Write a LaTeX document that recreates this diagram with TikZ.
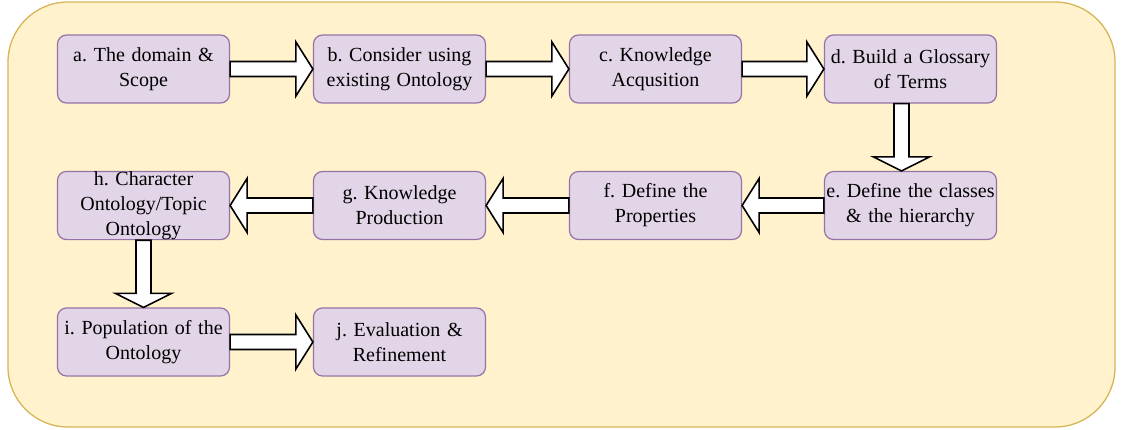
\documentclass[tikz,border=0pt]{standalone}
\usepackage{fontspec}
\setmainfont{Liberation Serif}
\newfontfamily\stepfont{Liberation Serif}
\usetikzlibrary{calc}

\definecolor{panelfill}{HTML}{FFF2CC}
\definecolor{panelline}{HTML}{D6B656}
\definecolor{stepfill}{HTML}{E1D5E7}
\definecolor{stepline}{HTML}{9673A6}

\tikzset{
  panel/.style={draw=panelline, fill=panelfill, line width=1.3pt, rounded corners=60pt},
  stepbox/.style={draw=stepline, fill=stepfill, line width=1.2pt, rounded corners=9pt,
    minimum width=171pt, minimum height=68pt, text width=172pt, inner sep=0pt,
    align=center, font=\stepfont\frenchspacing\fontsize{20}{25}\selectfont},
  blockarrow/.style={draw=black, fill=white, line width=1.6pt, line join=miter},
}

% horizontal block arrow: #1 start, #2 tip, #3 signed head length
\newcommand\hflow[3]{%
  \draw[blockarrow] let \p1=(#1), \p2=(#2) in
    (\x1,{\y1+7.5pt}) -- ({\x2-(#3)},{\y1+7.5pt}) -- ({\x2-(#3)},{\y1+27pt}) -- (\x2,\y1)
    -- ({\x2-(#3)},{\y1-27pt}) -- ({\x2-(#3)},{\y1-7.5pt}) -- (\x1,{\y1-7.5pt}) -- cycle;}

% downward block arrow: #1 start, #2 tip
\newcommand\vflow[2]{%
  \draw[blockarrow] let \p1=(#1), \p2=(#2) in
    ({\x1-7.5pt},\y1) -- ({\x1-7.5pt},{\y2+14pt}) -- ({\x1-28pt},{\y2+14pt}) -- (\x1,\y2)
    -- ({\x1+28pt},{\y2+14pt}) -- ({\x1+7.5pt},{\y2+14pt}) -- ({\x1+7.5pt},\y1) -- cycle;}

\begin{document}
\begin{tikzpicture}[x=1pt,y=-1pt]
  \useasboundingbox (0,0) rectangle (1124,429);
  \draw[panel] (8,2) rectangle (1115,427);

  % first row
  \node[stepbox] (a) at (143.5,69) {a. The domain \&\\Scope};
  \node[stepbox] (b) at (399.5,69) {b. Consider using\\existing Ontology};
  \node[stepbox] (c) at (655.5,69) {c. Knowledge\\Acqusition};
  \node[stepbox] (d) at (910.5,69) {d. Build a Glossary\\of Terms};

  % second row
  \node[stepbox] (e) at (910.5,205.5) {e. Define the classes\\\& the hierarchy};
  \node[stepbox] (f) at (655.5,205.5) {f. Define the\\Properties};
  \node[stepbox] (g) at (399.5,205.5) {g. Knowledge\\Production};
  \node[stepbox] (h) at (143.5,205.5) {h. Character\\Ontology/Topic\\Ontology};

  % third row
  \node[stepbox] (i) at (143.5,342) {i. Population of the\\Ontology};
  \node[stepbox] (j) at (399.5,342) {j. Evaluation \&\\Refinement};

  \coordinate (dout) at ($(d.south)+(-9,0)$);
  \coordinate (ein) at ($(e.north)+(-9,0)$);

  \hflow{a.east}{b.west}{17pt}
  \hflow{b.east}{c.west}{17pt}
  \hflow{c.east}{d.west}{17pt}
  \vflow{dout}{ein}
  \hflow{e.west}{f.east}{-17pt}
  \hflow{f.west}{g.east}{-17pt}
  \hflow{g.west}{h.east}{-17pt}
  \vflow{h.south}{i.north}
  \hflow{i.east}{j.west}{17pt}
\end{tikzpicture}
\end{document}
